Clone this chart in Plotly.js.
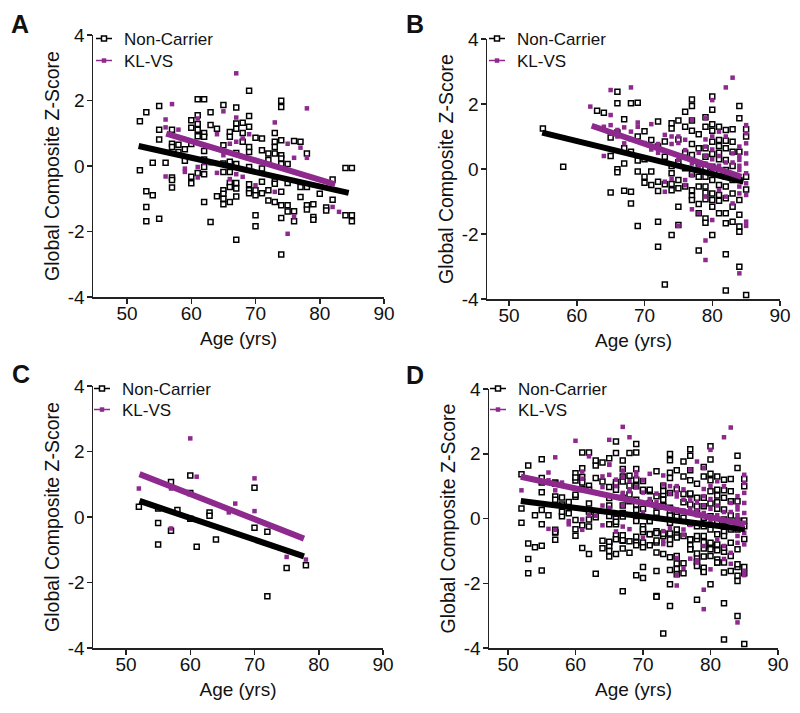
<!DOCTYPE html>
<html><head><meta charset="utf-8">
<script src="https://cdn.plot.ly/plotly-3.0.1.min.js"></script>
<style>html,body{margin:0;padding:0;background:#fff}#chart{width:800px;height:713px}</style>
</head><body><div id="chart"></div>
<script>
// ---------- DATA ----------
const panelLetters = ['A','B','C','D'];
const xTickVals = [50,60,70,80,90];
const yTickVals = [-4,-2,0,2,4];
const yTickText = ['-4','-2','0','2','4'];
const seriesNames = ['Non-Carrier','KL-VS'];

// Panel A [age, z]
const nonCarrierA = [[52,1.37],[52,-0.13],[53,1.64],[53,-0.77],[53,-1.25],[53,-1.69],[54,-0.89],[54,0.1],[55,1.83],[55,1.11],[55,0.81],[55,-1.61],[56,0.1],[57,1.11],[57,0.68],[57,0.58],[57,-0.35],[57,-0.43],[57,-0.66],[58,0.65],[58,0.43],[59,0.51],[59,0.16],[60,1.4],[60,1.17],[60,0.67],[60,-0.33],[60,-0.53],[61,2.04],[61,1.55],[61,1.28],[61,1.11],[61,0.91],[61,-0.21],[62,2.04],[62,1.01],[62,0.89],[62,0.46],[62,0.2],[62,-0.03],[62,-0.25],[62,-1.1],[63,1.64],[63,1.25],[63,-1.71],[64,1.14],[64,-0.92],[65,1.86],[65,0.63],[65,0.08],[65,-0.18],[65,-0.74],[65,-0.85],[65,-1.0],[65,-1.17],[66,1.04],[66,0.89],[66,0.13],[66,-0.18],[66,-0.52],[66,-0.64],[66,-1.1],[67,1.79],[67,1.3],[67,1.14],[67,0.4],[67,0.06],[67,-0.52],[67,-0.69],[67,-0.93],[67,-2.25],[68,1.32],[68,1.01],[68,0.74],[69,2.3],[69,1.53],[69,1.2],[69,0.58],[69,0.43],[69,-0.03],[69,-0.56],[69,-0.74],[69,-0.83],[70,0.86],[70,-0.74],[70,-0.89],[70,-1.5],[70,-1.84],[71,0.84],[71,0.48],[71,-0.08],[71,-0.48],[71,-0.83],[72,0.38],[72,0.18],[72,-0.74],[72,-1.05],[73,1.01],[73,0.74],[73,0.58],[73,0.38],[73,-0.47],[73,-0.54],[73,-1.1],[74,1.99],[74,1.8],[74,0.79],[74,0.33],[74,0.23],[74,0.06],[74,-0.79],[74,-1.2],[74,-1.59],[74,-2.7],[75,0.06],[75,-0.52],[75,-1.2],[75,-1.39],[76,0.76],[76,-1.38],[76,-1.69],[77,0.74],[77,-0.64],[77,-0.95],[78,0.38],[78,-0.64],[78,-1.2],[78,-1.33],[79,-1.17],[79,-1.56],[79,-1.64],[80,-0.85],[81,-1.27],[81,-1.36],[82,-0.41],[82,-1.03],[84,-0.06],[84,-1.5],[85,-0.06],[85,-1.5],[85,-1.69]];
const klvsA = [[57,1.89],[56,1.42],[56,1.18],[56,-0.32],[58,1.11],[59,-0.08],[59,-0.18],[61,1.45],[61,-0.03],[61,-0.35],[62,0.1],[63,0.08],[64,0.97],[64,-0.21],[65,1.67],[65,0.33],[66,0.68],[66,-0.4],[67,2.83],[67,1.48],[67,0.74],[67,-0.25],[68,0.84],[68,-0.33],[69,0.97],[70,-0.59],[73,1.33],[73,-0.79],[75,0.68],[76,0.25],[76,-1.54],[75,-2.07],[77,0.56],[78,1.76],[78,0.25],[82,-1.25],[83,-1.4]];
const fitA_ncAge = [51.8,84.5], fitA_ncZ = [0.61,-0.82];
const fitA_kvAge = [56.1,82.4], fitA_kvZ = [0.99,-0.56];

// Panel B
const nonCarrierB = [[55,1.25],[58,0.07],[63,1.79],[64,1.73],[65,0.97],[65,0.4],[65,-0.72],[66,2.38],[66,2.02],[66,1.12],[66,-0.01],[66,-0.1],[67,1.53],[67,0.64],[67,0.17],[67,-0.67],[68,2.02],[68,0.53],[68,-0.7],[68,-1.06],[69,2.04],[69,1.0],[69,0.26],[69,-0.08],[69,-1.75],[70,1.16],[70,0.3],[70,-0.24],[70,-0.42],[71,0.89],[71,-0.08],[71,-0.49],[72,1.46],[72,0.69],[72,-0.39],[72,-0.68],[72,-1.62],[72,-2.39],[73,0.85],[73,0.38],[73,-0.47],[73,-3.55],[74,1.41],[74,1.25],[74,0.09],[74,-0.13],[74,-0.46],[74,-0.65],[74,-2.03],[75,1.49],[75,0.91],[75,0.21],[75,-0.34],[75,-0.59],[75,-1.16],[75,-1.72],[76,1.76],[76,1.3],[76,0.5],[76,0.02],[76,-0.54],[77,2.14],[77,1.94],[77,1.49],[77,1.18],[77,0.77],[77,0.43],[77,-0.15],[77,-0.65],[77,-0.83],[77,-0.95],[78,1.07],[78,0.64],[78,0.17],[78,-0.24],[78,-0.54],[78,-1.08],[78,-1.36],[78,-2.51],[79,1.59],[79,1.3],[79,0.64],[79,0.38],[79,0.02],[79,-0.24],[79,-0.54],[79,-0.73],[79,-0.93],[79,-1.52],[79,-1.65],[80,2.23],[80,1.82],[80,1.38],[80,1.18],[80,0.84],[80,0.46],[80,0.07],[80,-0.34],[80,-0.75],[80,-0.95],[80,-1.16],[80,-2.03],[81,1.3],[81,0.89],[81,0.71],[81,0.5],[81,0.3],[81,-0.13],[81,-0.49],[81,-0.8],[81,-0.98],[81,-1.36],[82,1.2],[82,0.87],[82,0.64],[82,0.28],[82,-0.03],[82,-0.24],[82,-0.54],[82,-0.9],[82,-1.36],[82,-1.67],[82,-2.62],[82,-3.74],[83,1.22],[83,0.84],[83,0.53],[83,0.09],[83,-0.34],[83,-0.75],[83,-1.16],[83,-1.62],[84,1.94],[84,1.56],[84,0.53],[84,-0.34],[84,-0.95],[84,-1.41],[84,-1.77],[84,-1.93],[84,-3.01],[85,1.22],[85,1.0],[85,-0.24],[85,-0.63],[85,-3.88]];
const klvsB = [[62,1.92],[64,1.3],[64,0.4],[65,2.43],[65,1.66],[65,1.35],[66,1.2],[66,1.0],[67,1.28],[67,0.79],[68,2.51],[68,1.15],[68,0.9],[69,1.3],[69,1.43],[70,0.8],[71,1.38],[71,0.6],[72,0.77],[72,0.5],[73,1.05],[73,-0.39],[73,-0.7],[74,1.0],[74,0.77],[74,-0.3],[75,1.0],[75,0.8],[75,0.28],[75,-1.75],[76,0.9],[76,0.58],[76,-0.34],[76,-0.5],[77,1.51],[77,0.3],[77,0.17],[77,-0.2],[77,-1.24],[78,0.5],[78,0.1],[78,-1.36],[79,1.56],[79,0.91],[79,0.69],[79,0.4],[79,0.17],[79,-0.85],[79,-2.2],[79,-2.8],[80,2.12],[80,1.0],[80,0.6],[80,0.3],[80,-0.08],[80,-1.57],[81,1.15],[81,0.4],[81,0.1],[81,-0.65],[82,2.51],[82,1.0],[82,0.2],[82,-0.85],[83,2.81],[83,0.48],[83,0.2],[83,-0.3],[83,-1.06],[84,0.69],[84,0.4],[84,0.28],[84,0.1],[84,-0.03],[84,-0.54],[84,-0.75],[84,-3.21],[85,1.35],[85,1.1],[85,0.79],[85,0.48],[85,0.17],[85,-0.13],[85,-0.44],[85,-0.8],[85,-1.62],[85,-1.75]];
const fitB_ncAge = [54.9,84.6], fitB_ncZ = [1.12,-0.39];
const fitB_kvAge = [62.2,84.3], fitB_kvZ = [1.33,-0.24];

// Panel C
const nonCarrierC = [[52,0.31],[55,0.26],[55,-0.18],[55,-0.84],[57,1.07],[57,-0.42],[58,0.21],[60,1.27],[60,0.73],[60,-0.05],[61,-0.91],[63,0.14],[63,0.04],[64,-0.69],[70,0.89],[70,-0.33],[72,-0.45],[72,-2.42],[75,-1.56],[78,-1.47]];
const klvsC = [[52,0.87],[57,0.87],[57,-0.35],[60,2.4],[61,1.23],[66,0.14],[67,0.41],[70,1.18],[70,0.18],[75,-1.22],[78,-1.3]];
const fitC_ncAge = [52.1,77.7], fitC_ncZ = [0.49,-1.2];
const fitC_kvAge = [52.1,77.7], fitC_kvZ = [1.31,-0.66];

// Panel D = pooled A + B + C
const nonCarrierD = nonCarrierA.concat(nonCarrierB, nonCarrierC);
const klvsD = klvsA.concat(klvsB, klvsC);
const fitD_ncAge = [51.9,85.1], fitD_ncZ = [0.54,-0.33];
const fitD_kvAge = [51.9,85.1], fitD_kvZ = [1.29,-0.19];

// ---------- STYLE / LAYOUT ----------
const W = 800, H = 713;
const PURPLE = '#8e2a8e';
const AXC = '#222';
const FONT = 'Liberation Sans, Arial, Helvetica, sans-serif';
const boxes = [
  {l:93, r:384, t:35, b:297, x0:44.7, legL:84, legY:[39,61], letX:20, letY:24},
  {l:487, r:780, t:39, b:299, x0:46.75, legL:477, legY:[39,61], letX:415, letY:24},
  {l:93, r:383, t:386, b:648, x0:44.86, legL:82, legY:[389,410], letX:21, letY:374},
  {l:489, r:778, t:389, b:648, x0:47.19, legL:478, legY:[389,410], letX:415, letY:375}
];
const panelData = [
  {nc:nonCarrierA, kv:klvsA, fnx:fitA_ncAge, fny:fitA_ncZ, fkx:fitA_kvAge, fky:fitA_kvZ},
  {nc:nonCarrierB, kv:klvsB, fnx:fitB_ncAge, fny:fitB_ncZ, fkx:fitB_kvAge, fky:fitB_kvZ},
  {nc:nonCarrierC, kv:klvsC, fnx:fitC_ncAge, fny:fitC_ncZ, fkx:fitC_kvAge, fky:fitC_kvZ},
  {nc:nonCarrierD, kv:klvsD, fnx:fitD_ncAge, fny:fitD_ncZ, fkx:fitD_kvAge, fky:fitD_kvZ}
];

const traces = [];
const layout = {
  width: W, height: H, margin:{l:0,r:0,t:0,b:0},
  paper_bgcolor:'#fff', plot_bgcolor:'rgba(0,0,0,0)',
  font:{family:FONT, color:'#111', size:17},
  showlegend:true, annotations:[]
};
const ncMarker = {symbol:'square', size:5, color:'#fff', line:{color:'#000', width:1.5}};
const kvMarker = {symbol:'square', size:4.5, color:PURPLE, line:{width:0}};
const legendDash = '0px,7px,16px,60px';

panelData.forEach((p, i) => {
  const n = i + 1;
  const key = n === 1 ? '' : n;
  const xa = 'x' + key, ya = 'y' + key;
  const legA = 'legend' + (2*i+1 === 1 ? '' : 2*i+1);
  const legB = 'legend' + (2*i+2);
  const b = boxes[i];
  traces.push({type:'scatter', mode:'markers', x:p.nc.map(d=>d[0]), y:p.nc.map(d=>d[1]), xaxis:xa, yaxis:ya, marker:ncMarker, showlegend:false, hoverinfo:'skip', cliponaxis:false});
  traces.push({type:'scatter', mode:'markers', x:p.kv.map(d=>d[0]), y:p.kv.map(d=>d[1]), xaxis:xa, yaxis:ya, marker:kvMarker, showlegend:false, hoverinfo:'skip', cliponaxis:false});
  traces.push({type:'scatter', mode:'lines', x:p.fnx, y:p.fny, xaxis:xa, yaxis:ya, line:{color:'#000', width:6}, showlegend:false, hoverinfo:'skip'});
  traces.push({type:'scatter', mode:'lines', x:p.fkx, y:p.fky, xaxis:xa, yaxis:ya, line:{color:PURPLE, width:6}, showlegend:false, hoverinfo:'skip'});
  traces.push({type:'scatter', mode:'lines+markers', x:[null], y:[null], xaxis:xa, yaxis:ya, name:seriesNames[0], legend:legA, marker:ncMarker, line:{color:'#000', width:1.5, dash:legendDash}});
  traces.push({type:'scatter', mode:'lines+markers', x:[null], y:[null], xaxis:xa, yaxis:ya, name:seriesNames[1], legend:legB, marker:kvMarker, line:{color:PURPLE, width:1.5, dash:legendDash}});

  layout['xaxis' + key] = {
    domain:[b.l/W, b.r/W], range:[b.x0, 90], anchor:ya,
    tickvals:xTickVals, ticks:'outside', ticklen:5, tickwidth:1.5, tickcolor:AXC,
    showline:true, linecolor:AXC, linewidth:1.5, showgrid:false, zeroline:false,
    tickfont:{size:19, color:'#111'}, ticklabelstandoff:-6,
    title:{text:'Age (yrs)', font:{size:19, color:'#111'}, standoff:8}
  };
  layout['yaxis' + key] = {
    domain:[1 - b.b/H, 1 - b.t/H], range:[-4, 4], anchor:xa,
    tickvals:yTickVals, ticktext:yTickText, ticks:'outside', ticklen:5, tickwidth:1.5, tickcolor:AXC,
    showline:true, linecolor:AXC, linewidth:1.5, showgrid:false, zeroline:false,
    tickfont:{size:19, color:'#111'}, ticklabelstandoff:-2,
    title:{text:'Global Composite Z-Score', font:{size:19.5, color:'#111'}, standoff:3}
  };
  [legA, legB].forEach((lg, j) => {
    layout[lg] = {
      x:b.legL/W, y:1 - b.legY[j]/H, xanchor:'left', yanchor:'middle',
      bgcolor:'rgba(0,0,0,0)', borderwidth:0, font:{size:17, color:'#111'},
      tracegroupgap:0, itemwidth:30
    };
  });
  layout.annotations.push({
    text:'<b>' + panelLetters[i] + '</b>', xref:'paper', yref:'paper',
    x:b.letX/W, y:1 - b.letY/H, xanchor:'center', yanchor:'middle',
    showarrow:false, font:{size:25, color:'#111', family:FONT}
  });
});

Plotly.newPlot('chart', traces, layout, {staticPlot:true, displayModeBar:false});
</script>
</body></html>
